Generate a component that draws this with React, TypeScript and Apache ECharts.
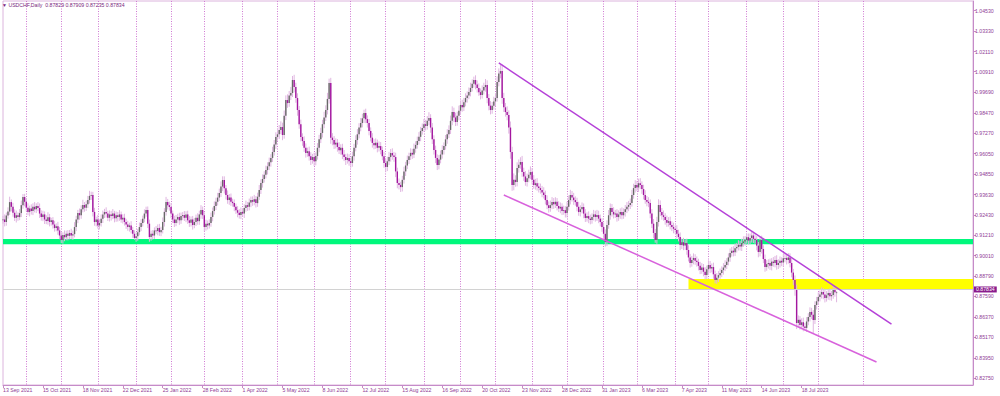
import React, { useEffect, useRef } from 'react';
import * as echarts from 'echarts';

// ---- data (prices in 1e-4 units) ----
const startDate = '2021-09-13';
const skippedDays = ['2022-12-26'];
const totalSlots = 584;
const gridLinesUntil = '2023-09-30';
const firstOpen = 9210;

const closes = [
  9215,9200,9238,9262,9318,9290,9255,9225,9240,9229,
  9253,9300,9348,9320,9285,9259,9280,9265,9290,9275,
  9295,9283,9250,9229,9245,9215,9206,9228,9200,9210,
  9185,9164,9175,9150,9120,9093,9123,9110,9130,9118,
  9135,9120,9128,9170,9215,9253,9240,9275,9301,9285,
  9305,9330,9355,9360,9260,9200,9215,9180,9194,9220,
  9245,9259,9250,9225,9245,9235,9250,9222,9240,9229,
  9245,9215,9225,9200,9185,9170,9180,9153,9130,9105,
  9115,9140,9170,9194,9220,9250,9271,9190,9111,9130,
  9120,9150,9147,9165,9140,9153,9200,9260,9318,9300,
  9289,9250,9215,9194,9215,9230,9210,9235,9241,9225,
  9245,9210,9195,9215,9182,9200,9225,9205,9245,9271,
  9240,9170,9190,9180,9194,9230,9265,9295,9320,9345,
  9372,9410,9449,9400,9360,9330,9345,9320,9312,9290,
  9270,9255,9241,9260,9250,9283,9300,9290,9315,9330,
  9320,9335,9312,9350,9390,9431,9455,9480,9508,9530,
  9555,9580,9615,9660,9704,9720,9745,9763,9716,9830,
  9923,9905,9950,9965,10042,10000,9935,9864,9780,9704,
  9680,9640,9609,9620,9590,9568,9585,9560,9591,9640,
  9690,9728,9780,9820,9864,9930,10024,9700,9686,9660,
  9670,9645,9625,9640,9600,9585,9568,9580,9560,9550,
  9590,9640,9686,9720,9760,9787,9815,9846,9810,9787,
  9740,9700,9669,9655,9670,9640,9650,9627,9590,9550,
  9526,9560,9585,9609,9595,9585,9500,9431,9420,9407,
  9450,9500,9535,9568,9590,9610,9600,9635,9657,9680,
  9705,9740,9757,9780,9770,9800,9817,9760,9690,9627,
  9580,9538,9570,9600,9627,9650,9690,9720,9746,9800,
  9852,9820,9793,9830,9860,9894,9880,9910,9935,9950,
  9971,9995,10020,10042,10015,9995,9970,9953,9980,10000,
  10012,9935,9890,9864,9890,9915,9935,10030,10080,10095,
  9935,9880,9852,9834,9760,9615,9419,9450,9437,9520,
  9540,9556,9496,9470,9437,9460,9480,9496,9450,9419,
  9430,9410,9401,9390,9375,9360,9330,9300,9283,9300,
  9318,9305,9320,9295,9280,9290,9265,9270,9253,9290,
  9330,9360,9345,9330,9318,9290,9259,9275,9289,9250,
  9224,9235,9220,9212,9230,9245,9230,9241,9220,9200,
  9170,9130,9081,9182,9240,9283,9260,9245,9250,9229,
  9245,9260,9240,9259,9275,9290,9301,9312,9360,9401,
  9420,9405,9430,9419,9395,9360,9330,9320,9312,9250,
  9190,9135,9093,9200,9301,9259,9240,9230,9212,9195,
  9205,9182,9170,9160,9153,9130,9111,9064,9080,9060,
  9075,9034,8990,8957,8975,8987,8970,8963,8940,8915,
  8930,8905,8886,8920,8945,8925,8933,8890,8856,8870,
  8885,8897,8915,8930,8945,8965,8990,9016,9030,9020,
  9045,9052,9065,9055,9075,9085,9093,9110,9090,9105,
  9120,9100,9093,9060,9022,9093,9040,8980,8933,8950,
  8957,8940,8965,8957,8975,8945,8957,8970,8960,8985,
  8987,8975,8990,8957,8900,8856,8797,8601,8620,8590,
  8605,8580,8572,8610,8637,8667,8650,8619,8708,8730,
  8755,8770,8785,8770,8750,8765,8779,8760,8767,8797,
  8783,8783,
];

const upWick = [
  22,30,18,25,32,16,24,20,28,17, 24,27,18,19,22,26,17,25,21,28,
  16,23,27,19,22,18,25,30,20,15, 19,22,17,26,21,24,16,27,19,22,
  18,25,21,29,22,19,27,24,31,17, 22,25,30,20,19,24,17,27,21,25,
  23,19,28,17,24,21,27,16,22,19, 26,17,21,24,19,22,16,25,18,21,
  24,19,27,22,18,25,20,21,24,19, 22,18,26,21,24,19,27,22,31,19,
  21,24,18,22,27,19,25,21,18,24, 19,22,26,18,21,24,19,27,22,29,
  21,18,24,19,22,26,21,27,24,28, 26,31,22,22,19,27,21,24,18,22,
  19,24,21,26,18,22,27,19,24,21, 22,26,19,24,29,22,27,21,26,24,
  27,22,31,26,28,24,30,34,26,31, 28,34,27,36,24,31,26,28,24,27,
  22,28,26,21,27,24,19,26,22,28, 27,31,26,34,28,36,26,31,27,24,
  26,22,28,21,24,27,19,26,22,21, 27,24,28,31,26,30,27,20,26,22,
  24,21,27,22,26,19,28,24,21,26, 22,27,31,24,28,21,26,22,27,19,
  24,28,22,26,21,27,24,30,22,26, 28,24,27,31,26,28,34,22,27,24,
  26,21,27,24,28,22,26,30,27,31, 34,26,28,24,30,27,31,26,28,24,
  27,31,26,20,28,24,27,22,30,26, 36,28,24,27,22,28,26,34,31,40,
  40,31,26,34,28,36,31,38,27,34, 31,28,36,26,32,27,30,34,24,28,
  26,30,22,27,24,31,26,28,22,27, 30,24,27,22,28,26,21,27,24,30,
  27,31,24,28,22,26,30,24,27,21, 26,22,28,24,21,27,22,31,26,24,
  22,27,26,28,31,27,24,28,22,26, 24,21,27,22,26,28,24,27,31,26,
  28,24,27,30,22,26,28,24,27,22, 26,28,24,31,34,27,24,28,22,26,
  24,27,22,26,21,28,24,27,22,26, 22,26,28,21,24,27,22,26,19,24,
  26,21,27,22,28,24,21,26,22,27, 24,27,22,26,28,21,24,27,22,26,
  28,24,27,22,26,30,24,20,22,27, 26,22,28,24,21,20,26,22,27,24,
  22,26,21,27,24,28,22,26,21,24, 27,22,26,24,28,22,27,31,26,22,
  24,28,21,26,22,27,24,28,22,26, 28,24,27,22,31,26,22,27,24,26,
  22,8,
];

const dnWick = [
  20,26,22,18,21,27,24,19,28,22, 18,24,21,27,22,19,26,21,24,18,
  22,19,26,21,24,27,19,22,26,21, 24,21,19,26,22,18,21,24,18,27,
  21,22,26,19,24,22,27,21,18,24, 19,22,21,24,27,22,26,19,24,21,
  26,21,24,19,22,27,18,24,21,26, 22,19,24,21,26,22,27,21,24,10,
  22,26,19,24,21,22,19,26,28,22, 24,21,19,26,22,24,21,27,22,26,
  22,26,21,24,19,22,27,21,24,19, 26,21,24,22,27,19,24,21,22,26,
  22,27,21,24,19,22,26,21,24,22, 21,24,27,31,26,22,28,24,21,26,
  22,27,21,24,19,26,22,24,21,27, 24,21,26,22,19,24,27,21,22,26,
  22,27,24,21,26,22,28,24,31,22, 26,28,22,27,24,31,28,34,27,26,
  28,24,27,22,26,30,22,27,24,21, 26,22,27,24,21,26,28,36,31,27,
  24,28,22,26,27,24,30,22,26,28, 22,26,21,27,24,22,26,28,24,27,
  26,22,28,24,21,27,22,26,24,28, 31,24,22,27,26,28,34,31,27,29,
  26,22,27,21,24,22,26,21,24,22, 21,26,22,24,27,22,26,31,28,27,
  31,30,26,22,24,27,21,26,22,24, 26,28,24,22,27,21,26,22,24,27,
  22,26,21,24,28,27,22,26,21,24, 27,31,28,26,22,24,27,21,26,28,
  34,28,27,31,36,40,34,31,28,26, 27,24,28,26,22,27,24,26,28,22,
  27,24,26,22,28,21,26,24,27,22, 24,27,22,26,21,28,24,22,26,27,
  22,26,24,28,21,27,22,26,24,28, 24,22,27,26,22,21,28,24,27,26,
  28,26,27,24,22,26,28,24,21,27, 22,26,24,21,27,22,26,24,21,22,
  26,22,27,24,28,26,22,27,24,28, 26,31,16,22,27,24,26,22,28,24,
  22,26,24,27,22,28,26,31,24,27, 26,28,24,27,22,26,24,28,27,24,
  22,27,26,24,21,28,24,27,20,22, 26,22,24,27,21,24,22,26,21,24,
  22,26,21,24,27,22,26,21,24,22, 27,24,22,28,31,26,27,24,28,22,
  26,24,27,22,26,28,24,27,22,26, 24,27,22,26,28,31,34,36,27,28,
  26,28,17,24,22,27,26,77,24,27, 22,26,24,28,27,22,26,24,27,22,
  26,59,
];

const symbolName = 'USDCHF,Daily';
const lastOHLC = ['0.87829', '0.87909', '0.87235', '0.87834'];
const currentPrice = 0.87834;
const yTicks = [1.0453, 1.0333, 1.0211, 1.0091, 0.9969, 0.9847, 0.9727, 0.9605, 0.9485, 0.9363,
  0.9243, 0.9121, 0.9001, 0.8879, 0.8759, 0.8637, 0.8517, 0.8395, 0.8275];
const yMin = 0.82335;
const yMax = 1.05105;
const greenZone = [0.9099, 0.9068];
const yellowZone = { fromIndex: 412, top: 0.8862, bottom: 0.8803 };
const upperTrend = [[298, 1.0143], [534, 0.8595]];
const lowerTrend = [[301, 0.9360], [525, 0.8370]];

const MONTHS = ['Jan', 'Feb', 'Mar', 'Apr', 'May', 'Jun', 'Jul', 'Aug', 'Sep', 'Oct', 'Nov', 'Dec'];
const FONT = '"Liberation Sans", Arial, sans-serif';
const AXIS_COLOR = '#c58bc8';
const TEXT_COLOR = '#8f3c96';

function buildCategories(): string[] {
  const out: string[] = [];
  const d = new Date(startDate + 'T00:00:00Z');
  while (out.length < closes.length) {
    const iso = d.toISOString().slice(0, 10);
    const wd = d.getUTCDay();
    if (wd !== 0 && wd !== 6 && !skippedDays.includes(iso)) out.push(iso);
    d.setUTCDate(d.getUTCDate() + 1);
  }
  while (out.length < totalSlots) {
    out.push(d.toISOString().slice(0, 10));
    d.setUTCDate(d.getUTCDate() + 1);
  }
  return out;
}

function fmtDate(iso: string): string {
  const [y, m, dd] = iso.split('-');
  return `${parseInt(dd, 10)} ${MONTHS[parseInt(m, 10) - 1]} ${y}`;
}

export default function App() {
  const ref = useRef<HTMLDivElement>(null);

  useEffect(() => {
    if (!ref.current) return;
    const chart = echarts.init(ref.current, undefined, { renderer: 'svg' });
    const categories = buildCategories();
    const bars = closes.map((c, i) => {
      const o = i === 0 ? firstOpen : closes[i - 1];
      const h = Math.max(o, c) + upWick[i];
      const l = Math.min(o, c) - dnWick[i];
      return [i, o / 10000, c / 10000, l / 10000, h / 10000];
    });
    const labelShown = (index: number) => index % 24 === 0 && index < closes.length;
    const monthStart = (index: number) => {
      if (index === 0) return false;
      const cur = categories[index];
      const prev = categories[index - 1];
      return cur.slice(5, 7) !== prev.slice(5, 7) && cur <= gridLinesUntil;
    };

    const option: any = {
      animation: false,
      backgroundColor: '#ffffff',
      textStyle: { fontFamily: FONT },
      title: {
        left: 2,
        top: 2,
        padding: 0,
        text: `{i|▼} ${symbolName}  ${lastOHLC.join(' ')}`,
        textStyle: {
          fontSize: 5.2,
          fontWeight: 'normal',
          color: '#7a1f7e',
          fontFamily: FONT,
          rich: { i: { fontSize: 5, color: '#7a1f7e' } },
        },
      },
      grid: {
        left: 1,
        right: 27,
        top: 1,
        bottom: 11,
        show: true,
        borderColor: '#dcb4dd',
        borderWidth: 1,
      },
      xAxis: {
        type: 'category',
        data: categories,
        boundaryGap: false,
        axisLine: { show: true, lineStyle: { color: AXIS_COLOR, width: 1 } },
        axisTick: { show: true, interval: labelShown, length: 3, lineStyle: { color: AXIS_COLOR } },
        axisLabel: {
          interval: labelShown,
          formatter: (v: string) => fmtDate(v),
          align: 'left',
          fontSize: 5.2,
          color: TEXT_COLOR,
          margin: 2,
          fontFamily: FONT,
        },
        splitLine: {
          show: true,
          interval: monthStart,
          lineStyle: { type: [1, 1.5], color: '#d07ad3', width: 1 },
        },
      },
      yAxis: {
        type: 'value',
        position: 'right',
        min: yMin,
        max: yMax,
        axisLine: { show: true, lineStyle: { color: AXIS_COLOR, width: 1 } },
        axisTick: { show: true, customValues: yTicks, length: 3, lineStyle: { color: AXIS_COLOR } },
        axisLabel: {
          customValues: yTicks,
          formatter: (v: number) => v.toFixed(5),
          fontSize: 5.2,
          color: TEXT_COLOR,
          margin: 2,
          fontFamily: FONT,
        },
        splitLine: { show: false },
      },
      series: [
        {
          name: 'zones',
          type: 'line',
          data: [],
          z: 1,
          silent: true,
          markArea: {
            silent: true,
            data: [
              [
                { yAxis: greenZone[0], itemStyle: { color: '#00f87c', opacity: 1 } },
                { yAxis: greenZone[1] },
              ],
              [
                { xAxis: yellowZone.fromIndex, yAxis: yellowZone.top, itemStyle: { color: '#ffff00', opacity: 1 } },
                { xAxis: totalSlots - 1, yAxis: yellowZone.bottom },
              ],
            ],
          },
          markLine: {
            silent: true,
            symbol: ['none', 'none'],
            data: [
              {
                yAxis: currentPrice,
                lineStyle: { color: '#d2d2d2', width: 1, type: 'solid' },
                label: {
                  show: true,
                  position: 'end',
                  distance: 1,
                  formatter: currentPrice.toFixed(5),
                  color: '#ffffff',
                  backgroundColor: '#8a1b8c',
                  padding: [1, 2, 0, 2],
                  fontSize: 5.2,
                  fontFamily: FONT,
                },
              },
            ],
          },
        },
        {
          name: 'candles',
          type: 'custom',
          z: 3,
          data: bars,
          encode: { x: 0, y: [1, 2, 3, 4] },
          renderItem: (params: any, api: any) => {
            const i = api.value(0);
            const o = api.value(1);
            const c = api.value(2);
            const l = api.value(3);
            const h = api.value(4);
            const pO = api.coord([i, o]);
            const pC = api.coord([i, c]);
            const pH = api.coord([i, h]);
            const pL = api.coord([i, l]);
            const bw = api.size([1, 0])[0] * 0.85;
            const bull = c >= o;
            const top = Math.min(pO[1], pC[1]);
            const hgt = Math.max(Math.abs(pO[1] - pC[1]), 0.8);
            return {
              type: 'group',
              children: [
                {
                  type: 'line',
                  shape: { x1: pH[0], y1: pH[1], x2: pL[0], y2: pL[1] },
                  style: { stroke: '#e0b6e1', lineWidth: 1 },
                },
                {
                  type: 'rect',
                  shape: { x: pO[0] - bw / 2, y: top, width: bw, height: hgt },
                  style: { fill: bull ? '#686868' : '#a3179f' },
                },
              ],
            };
          },
        },
        {
          name: 'trends',
          type: 'line',
          data: [],
          z: 5,
          silent: true,
          markLine: {
            silent: true,
            symbol: ['none', 'none'],
            label: { show: false },
            data: [
              [
                { coord: upperTrend[0], lineStyle: { color: '#b541d8', width: 1.5, type: 'solid' } },
                { coord: upperTrend[1] },
              ],
              [
                { coord: lowerTrend[0], lineStyle: { color: '#d862dc', width: 1.5, type: 'solid' } },
                { coord: lowerTrend[1] },
              ],
            ],
          },
        },
      ],
    };
    chart.setOption(option);
    return () => chart.dispose();
  }, []);

  return (
    <div
      ref={ref}
      style={{ position: 'fixed', left: 0, top: 0, width: 1000, height: 396, background: '#fff' }}
    />
  );
}
